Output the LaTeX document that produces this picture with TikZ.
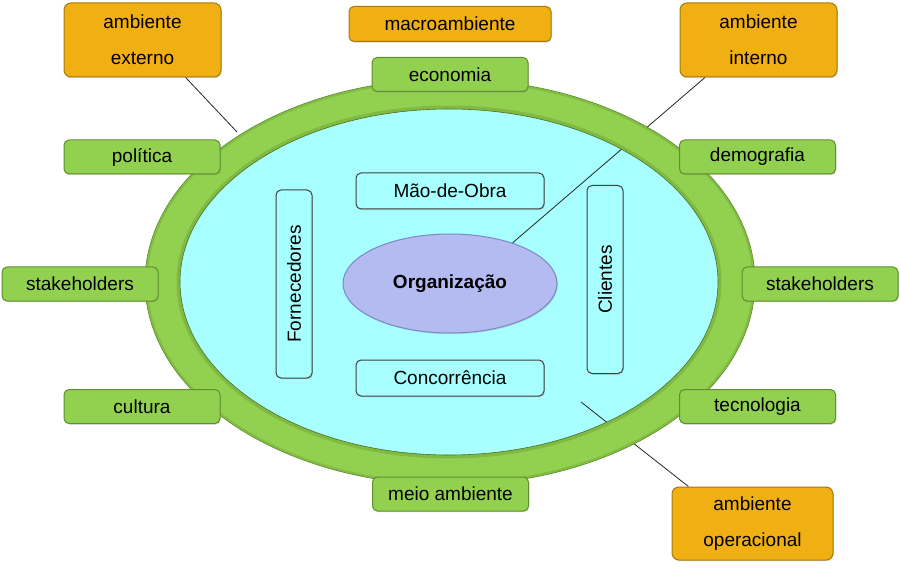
\documentclass[tikz,border=0pt]{standalone}
\usepackage{fontspec}
\setmainfont{Liberation Sans}
\usetikzlibrary{shapes.geometric,shadows}

\definecolor{verde}{HTML}{92D050}
\definecolor{verdescuro}{HTML}{5F8F2C}
\definecolor{arancio}{HTML}{F0AF12}
\definecolor{aranciobordo}{HTML}{A8780A}
\definecolor{ciano}{HTML}{A8FFFF}
\definecolor{lilla}{HTML}{B3BBF0}
\definecolor{lillabordo}{HTML}{7F87C6}

\begin{document}
\begin{tikzpicture}[x=1pt, y=-1pt,
    testo/.style={font=\fontsize{19}{23}\selectfont},
    ombra/.style={drop shadow={shadow xshift=0.8pt, shadow yshift=-1.2pt, opacity=0.3}},
    fattore/.style={testo, ombra, draw=verdescuro, fill=verde, line width=1pt,
        rounded corners=5pt, minimum width=156pt, minimum height=34pt},
    ambiente/.style={testo, ombra, draw=aranciobordo, fill=arancio, line width=1pt,
        rounded corners=7pt, minimum width=157pt, minimum height=74pt,
        align=center, font=\fontsize{19}{36}\selectfont},
    interno/.style={testo, ombra, draw=black!75, fill=ciano, line width=1pt,
        rounded corners=5pt, minimum width=188pt, minimum height=36pt},
    collegamento/.style={black!85, line width=0.8pt}]
    \useasboundingbox (0,0) rectangle (900,580);

    % Ambiente operacional (interno)
    \fill[ciano] (449,282) ellipse [x radius=269, y radius=173];

    % Nodi arancioni e linee (sotto l'anello)
    \node[ambiente] (estext) at (142.5,40) {ambiente\\externo};
    \node[ambiente] (estint) at (758.5,40) {ambiente\\interno};
    \node[ambiente, minimum width=161pt, minimum height=73pt] (estop) at (752.5,523.5) {ambiente\\operacional};
    \node[ambiente, minimum width=202pt, minimum height=35pt, rounded corners=5pt] (macro) at (450,24) {macroambiente};

    % Organizzazione al centro
    \node[ellipse, ombra, draw=lillabordo, fill=lilla, line width=1pt, minimum width=214pt,
        minimum height=99pt, testo, font=\fontsize{19}{23}\selectfont\bfseries] (org) at (450,283.5) {Organização};

    \coordinate (pe) at (237,132);
    \coordinate (po) at (581,402);
    \draw[collegamento] (estext.-41) -- (pe);
    \draw[collegamento] (estint.215) -- (org.33);
    \draw[collegamento] (estop.150) -- (po);

    % Anello verde (macroambiente)
    \fill[verde, even odd rule] (450,282) ellipse [x radius=305, y radius=203]
        (449,282) ellipse [x radius=269, y radius=173];
    \begin{scope}[even odd rule]
        \clip (450,282) ellipse [x radius=305, y radius=203]
            (449,282) ellipse [x radius=269, y radius=173];
        \draw[verdescuro, line width=7pt, opacity=0.35] (449,282) ellipse [x radius=269, y radius=173];
        \draw[verdescuro, line width=5pt, opacity=0.3] (450,282) ellipse [x radius=305, y radius=203];
    \end{scope}
    \draw[verdescuro, line width=0.6pt] (450,282) ellipse [x radius=305, y radius=203];
    \draw[verdescuro!80!black, line width=0.6pt] (449,282) ellipse [x radius=269, y radius=173];

    % Fattori del macroambiente
    \node[fattore] (eco) at (450,74.5) {economia};
    \node[fattore] (pol) at (142,157) {política};
    \node[fattore] (dem) at (757.5,157) {demografia};
    \node[fattore] (stsx) at (80,284) {stakeholders};
    \node[fattore] (stdx) at (820,284) {stakeholders};
    \node[fattore] (cul) at (142,406.5) {cultura};
    \node[fattore] (tec) at (757.5,406.5) {tecnologia};
    \node[fattore] (meio) at (450.5,494) {meio ambiente};

    % Fattori operativi
    \node[interno] (mao) at (450,191) {Mão-de-Obra};
    \node[interno] (conc) at (450,378) {Concorrência};
    \node[interno, rotate=90] (forn) at (294,284) {Fornecedores};
    \node[interno, rotate=90] (cli) at (605,279.5) {Clientes};
\end{tikzpicture}
\end{document}
